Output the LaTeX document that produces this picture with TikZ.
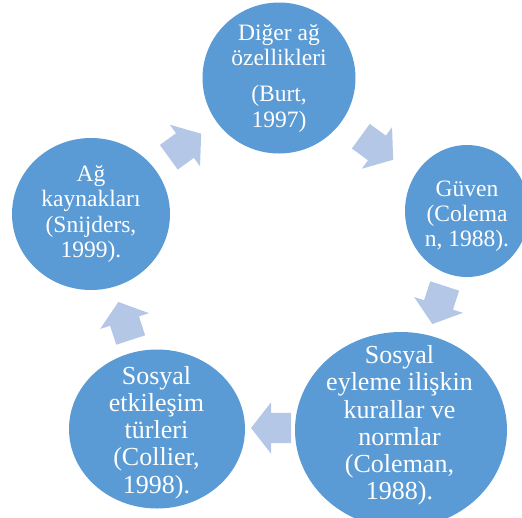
\documentclass[tikz,border=0pt]{standalone}
\usepackage{fontspec}
\setmainfont{Liberation Serif}
\usepackage{xcolor}
\usepackage{tikz}
\usetikzlibrary{shapes.geometric, shapes.arrows}
\definecolor{circblue}{RGB}{91,155,213}
\definecolor{arrowblue}{RGB}{180,199,231}
\tikzset{
  bubble/.style={ellipse, fill=circblue, draw=none, inner sep=0pt, outer sep=0pt},
  bubbletext/.style={align=center, text=white, inner sep=0pt},
  midtext/.style={bubbletext, font=\fontsize{23.5}{25.2}\selectfont},
  bigtext/.style={bubbletext, font=\fontsize{26}{27.2}\selectfont},
  cyclearrow/.style={single arrow, fill=arrowblue, draw=none,
    inner xsep=0pt, inner ysep=15pt, outer sep=0pt,
    minimum height=40pt, minimum width=51pt,
    single arrow head extend=10.5pt, single arrow tip angle=104}
}

\begin{document}
\begin{tikzpicture}[x=1pt, y=1pt]
  \useasboundingbox (0,0) rectangle (522,-517);
  \clip (0,0) rectangle (522,-517);
  % circles
  \node[bubble, minimum width=153pt, minimum height=151pt] (diger) at (279,-78) {};
  \node[bubble, minimum width=124pt, minimum height=132pt] (guven) at (467,-211) {};
  \node[bubble, minimum width=212pt, minimum height=196pt] (kural) at (401,-430) {};
  \node[bubble, minimum width=176pt, minimum height=159pt] (etkilesim) at (157,-429) {};
  \node[bubble, minimum width=158pt, minimum height=152pt] (kaynak) at (91,-214) {};
  % block arrows between the circles
  \foreach \cx/\cy/\ang/\nm in {185/145.5/36/ok1, 377/148/-36/ok2, 438.5/305/-108/ok3,
                                271/428/180/ok4, 124.5/321/108/ok5}
    \node[cyclearrow, rotate=\ang, anchor=tail] (\nm) at ([shift={(\ang+180:20)}]\cx,-\cy) {};
  % texts
  \node[midtext] (digertext) at (279,-78.2) {Diğer ağ\\özellikleri\\[11pt](Burt,\\1997)};
  \node[midtext] (guventext) at (467,-216) {Güven\\(Colema\\n, 1988).};
  \node[bigtext] (kuraltext) at (399.5,-425.5) {Sosyal\\eyleme ilişkin\\kurallar ve\\normlar\\(Coleman,\\1988).};
  \node[bigtext] (etkilesimtext) at (156.5,-432.5) {Sosyal\\etkileşim\\türleri\\(Collier,\\1998).};
  \node[midtext] (kaynaktext) at (91,-214) {Ağ\\kaynakları\\(Snijders,\\1999).};
\end{tikzpicture}
\end{document}
